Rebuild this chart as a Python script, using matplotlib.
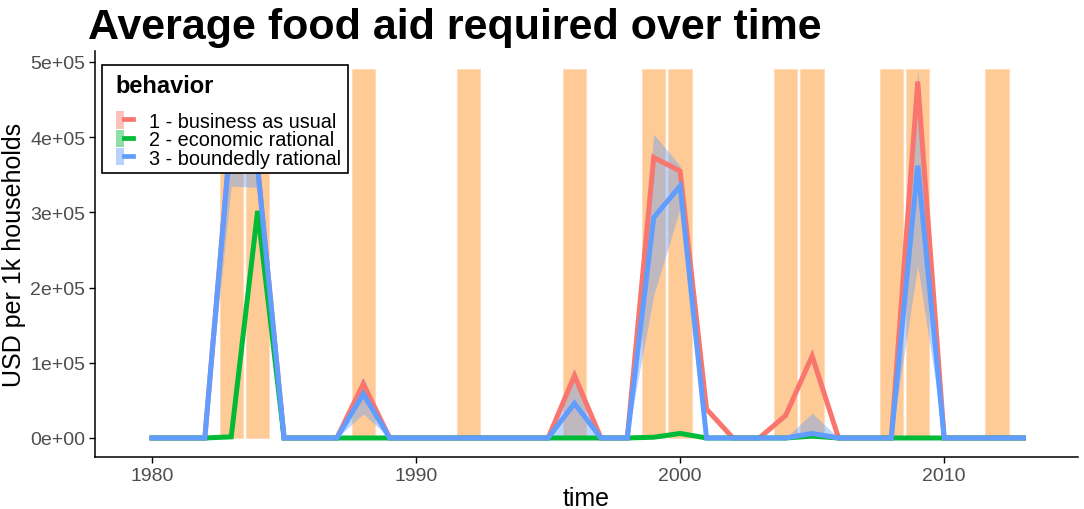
import matplotlib
matplotlib.use("Agg")
import matplotlib.pyplot as plt
from matplotlib.patches import Patch, Rectangle
from matplotlib.lines import Line2D
from matplotlib.legend_handler import HandlerTuple
from matplotlib.ticker import FuncFormatter

plt.rcParams["font.family"] = ["Liberation Sans", "DejaVu Sans"]

# ---------------- data ----------------
years = list(range(1980, 2014))

drought_years = [1983, 1984, 1988, 1992, 1996, 1999, 2000, 2004, 2005, 2008, 2009, 2012]
drought_height = 4.9e5

business_as_usual = [
    0, 0, 0, 4.1e5, 3.6e5, 0, 0, 0, 0.72e5, 0,          # 1980-1989
    0, 0, 0, 0, 0, 0, 0.83e5, 0, 0, 3.73e5,             # 1990-1999
    3.55e5, 0.385e5, 0, 0, 0.30e5, 1.09e5, 0, 0, 0, 4.74e5,  # 2000-2009
    0, 0, 0, 0,                                          # 2010-2013
]
economic_rational = [
    0, 0, 0, 0.015e5, 3.02e5, 0, 0, 0, 0, 0,
    0, 0, 0, 0, 0, 0, 0, 0, 0, 0.01e5,
    0.06e5, 0, 0, 0, 0, 0.025e5, 0, 0, 0, 0,
    0, 0, 0, 0,
]
boundedly_rational = [
    0, 0, 0, 4.1e5, 3.6e5, 0, 0, 0, 0.585e5, 0,
    0, 0, 0, 0, 0, 0, 0.46e5, 0, 0, 2.93e5,
    3.35e5, 0, 0, 0, 0, 0.06e5, 0, 0, 0, 3.62e5,
    0, 0, 0, 0,
]
boundedly_low = [
    0, 0, 0, 3.35e5, 3.33e5, 0, 0, 0, 0.32e5, 0,
    0, 0, 0, 0, 0, 0, 0, 0, 0, 1.9e5,
    3.05e5, 0, 0, 0, 0, 0, 0, 0, 0, 2.29e5,
    0, 0, 0, 0,
]
boundedly_high = [
    0, 0, 0, 4.3e5, 3.9e5, 0, 0, 0, 0.81e5, 0,
    0, 0, 0, 0, 0, 0, 0.9e5, 0, 0, 4.04e5,
    3.62e5, 0, 0, 0, 0, 0.33e5, 0, 0, 0, 4.9e5,
    0, 0, 0, 0,
]

labels = ["1 - business as usual", "2 - economic rational", "3 - boundedly rational"]
colors = ["#F8766D", "#00BA38", "#619CFF"]
y_ticks = [0, 1e5, 2e5, 3e5, 4e5, 5e5]
x_ticks = [1980, 1990, 2000, 2010]

# ---------------- figure ----------------
W, H = 1084, 510
fig = plt.figure(figsize=(W / 100, H / 100), dpi=100)
ax = fig.add_axes([95 / W, 1 - 458 / H, (1078 - 95) / W, (458 - 52) / H])

ax.bar(drought_years, drought_height, width=0.88, color="#FECB96",
       edgecolor="#FFDDBB", linewidth=0.8, zorder=1)

ax.fill_between(years, boundedly_low, boundedly_high, color=colors[2],
                alpha=0.4, linewidth=0, zorder=2)

lw = 3.6
ax.plot(years, business_as_usual, color=colors[0], lw=lw, zorder=3,
        solid_joinstyle="miter")
ax.plot(years, economic_rational, color=colors[1], lw=lw, zorder=4,
        solid_joinstyle="miter")
ax.plot(years, boundedly_rational, color=colors[2], lw=lw, zorder=5,
        solid_joinstyle="miter")

ax.set_xlim(1977.84, 2015.07)
ax.set_ylim(-0.253e5, 5.146e5)
ax.set_xticks(x_ticks)
ax.set_yticks(y_ticks)
ax.yaxis.set_major_formatter(FuncFormatter(lambda v, p: f"{v:.0e}"))
ax.tick_params(axis="both", labelsize=14, colors="black", labelcolor="#4D4D4D",
               length=4, width=1.0, pad=3)

for s in ["top", "right"]:
    ax.spines[s].set_visible(False)
for s in ["left", "bottom"]:
    ax.spines[s].set_linewidth(1.1)

ax.set_xlabel("time", fontsize=18, labelpad=2)
ax.set_ylabel("USD per 1k households", fontsize=18, labelpad=3)

fig.text(88 / W, 1 - 39 / H, "Average food aid required over time",
         fontsize=31, fontweight="bold", ha="left", va="baseline")

# legend box (frame drawn separately to match the reference geometry)
box = Rectangle((102 / W, 1 - 174 / H), (348 - 102) / W, (174 - 66) / H,
                transform=fig.transFigure, facecolor="white", edgecolor="black",
                linewidth=1.2, zorder=4)
fig.add_artist(box)

handles = [(Patch(facecolor=c, alpha=0.45, edgecolor="none"),
            Line2D([], [], color=c, lw=3.4)) for c in colors]
leg = fig.legend(handles, labels, loc="upper left",
                 bbox_to_anchor=(102 / W, 1 - 61 / H),
                 handler_map={tuple: HandlerTuple(ndivide=None, pad=0)},
                 title="behavior", alignment="left",
                 fontsize=14.3, title_fontproperties={"weight": "bold", "size": 17},
                 frameon=False, borderpad=0.7, labelspacing=-0.05,
                 handlelength=0.85, handleheight=0.95, handletextpad=0.8,
                 borderaxespad=0)
leg.set_zorder(5)
leg._legend_box.sep = 10.5

fig.savefig("out.png", dpi=100)
